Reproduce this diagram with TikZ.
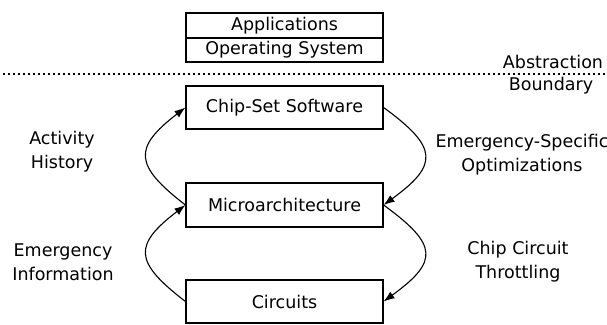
\documentclass[tikz,border=0pt]{standalone}
\usepackage{fontspec}
\setmainfont{DejaVu Sans}
\usetikzlibrary{arrows.meta}

\begin{document}
\begin{tikzpicture}[x=1pt, y=-1pt, >={Latex[length=11pt,width=8pt]},
	every node/.style={font=\fontsize{17.5}{24}\selectfont},
	layer/.style={draw, line width=1.1pt, minimum width=197pt, inner sep=0pt},
	loop/.style={->, line width=1.1pt},
	lbl/.style={align=center}]
	\useasboundingbox (0,0) rectangle (607,324);
	% software stack above the boundary
	\node[layer, minimum height=25pt] (apps) at (284.5,25.5) {Applications};
	\node[layer, minimum height=24pt] (os) at (284.5,50) {Operating System};
	\draw[line width=1.6pt, dash pattern=on 1.6pt off 3.4pt] (3,74) -- (606,74);
	\node (abs) at (553,62) {Abstraction};
	\node (bnd) at (551,86) {Boundary};
	% the three layers
	\node[layer, minimum height=43pt] (csw) at (284.5,107.5) {Chip-Set Software};
	\node[layer, minimum height=44pt] (micro) at (284.5,205) {Microarchitecture};
	\node[layer, minimum height=43pt] (circ) at (284.5,301.5) {Circuits};
	% feedback loops
	\draw[loop] (csw.east) .. controls +(55,40) and +(55,-40) .. (micro.east);
	\draw[loop] (micro.east) .. controls +(55,40) and +(55,-40) .. (circ.east);
	\draw[loop] (micro.west) .. controls +(-52,-40) and +(-52,40) .. (csw.west);
	\draw[loop] (circ.west) .. controls +(-52,-40) and +(-52,40) .. (micro.west);
	\node[lbl] (act) at (62,152) {Activity\\History};
	\node[lbl] (emi) at (63,262) {Emergency\\Information};
	\node[lbl] (eso) at (522,155) {Emergency-Specific\\Optimizations};
	\node[lbl] (cct) at (518,262) {Chip Circuit\\Throttling};
\end{tikzpicture}
\end{document}
